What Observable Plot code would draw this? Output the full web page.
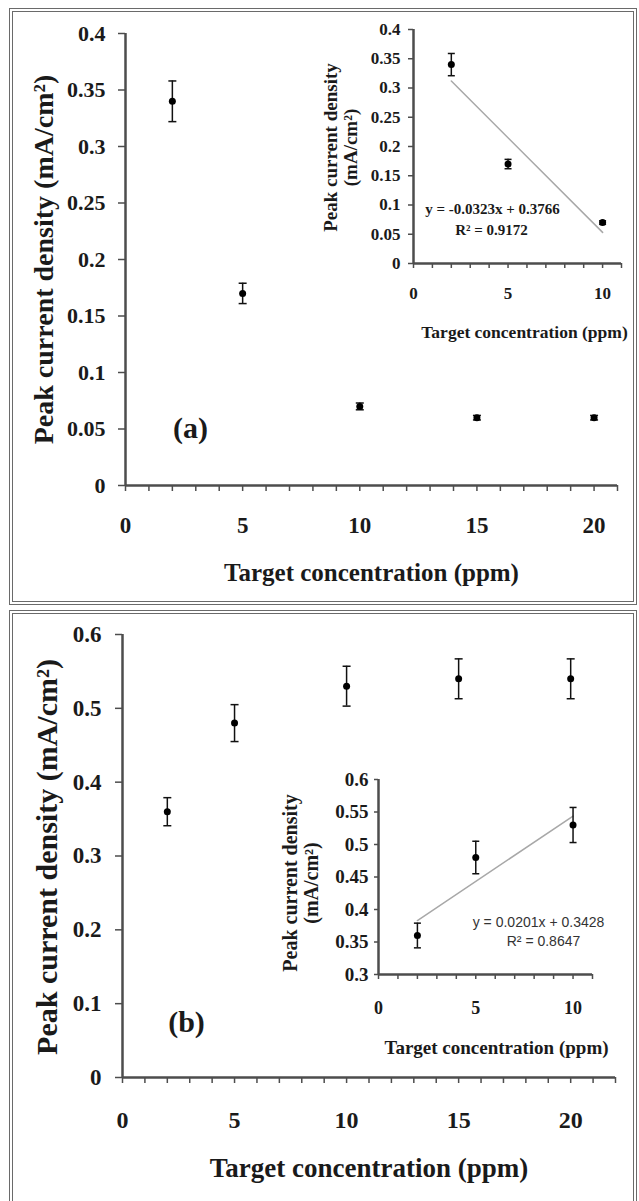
<!DOCTYPE html>
<html><head><meta charset="utf-8">
<script src="https://cdn.jsdelivr.net/npm/d3@7"></script>
<script src="https://cdn.jsdelivr.net/npm/@observablehq/plot@0.6"></script>
<style>
html,body{margin:0;padding:0;background:#fff;}
#page{position:relative;width:639px;height:1201px;overflow:hidden;background:#fff;}
.frame{position:absolute;box-sizing:border-box;border:4px double #6a6a6a;}
#page svg{position:absolute;left:0;top:0;}
</style></head><body><div id="page">
<div class="frame" style="left:9px;top:8px;width:628px;height:597px"></div>
<div class="frame" style="left:9px;top:610px;width:628px;height:640px"></div>
</div>
<script>
// ---- data ----
const concentrations = [2, 5, 10, 15, 20];
const densityA = [0.34, 0.17, 0.07, 0.06, 0.06];
const errorA = [0.018, 0.009, 0.003, 0.002, 0.002];
const densityB = [0.36, 0.48, 0.53, 0.54, 0.54];
const errorB = [0.019, 0.025, 0.027, 0.027, 0.027];

const insetConcentrations = [2, 5, 10];
const insetDensityA = [0.34, 0.17, 0.07];
const insetErrorA = [0.019, 0.008, 0.003];
const insetDensityB = [0.36, 0.48, 0.53];
const insetErrorB = [0.019, 0.025, 0.027];

// ---- ticks & labels ----
const mainXTicks = [0, 5, 10, 15, 20];
const insetXTicks = [0, 5, 10];
const mainAYTicks = [0, 0.05, 0.1, 0.15, 0.2, 0.25, 0.3, 0.35, 0.4];
const insetAYTicks = [0, 0.05, 0.1, 0.15, 0.2, 0.25, 0.3, 0.35, 0.4];
const mainBYTicks = [0, 0.1, 0.2, 0.3, 0.4, 0.5, 0.6];
const insetBYTicks = [0.3, 0.35, 0.4, 0.45, 0.5, 0.55, 0.6];
const minorA = d3.range(0, 22);
const minorB = d3.range(0, 23);
const minorInset = d3.range(0, 12);

const yTitle = "Peak current density (mA/cm²)";
const yTitleInset = "Peak current density\n(mA/cm²)";
const xTitle = "Target concentration (ppm)";
const eqA = ["y = -0.0323x + 0.3766", "R² = 0.9172"];
const eqB = ["y = 0.0201x + 0.3428", "R² = 0.8647"];

const rows = (xs, ys, es) => xs.map((x, i) => ({x, y: ys[i], e: es[i]}));
const dataA = rows(concentrations, densityA, errorA);
const dataB = rows(concentrations, densityB, errorB);
const insetA = rows(insetConcentrations, insetDensityA, insetErrorA);
const insetB = rows(insetConcentrations, insetDensityB, insetErrorB);

const AX = "#4d4d4d";
const TXT = "#1a1a1a";
const SERIF = "'Liberation Serif','Times New Roman',serif";
const style = {background: "none", overflow: "visible", fontFamily: SERIF, fontWeight: "bold", color: TXT};
const cap = {draw(ctx, size) { const r = Math.sqrt(size / Math.PI); ctx.moveTo(-r, 0); ctx.lineTo(r, 0); }};

function errMarks(data, capR, dotR) {
  return [
    Plot.ruleX(data, {x: "x", y1: d => d.y - d.e, y2: d => d.y + d.e, stroke: "#111", strokeWidth: 1.5}),
    Plot.dot(data, {x: "x", y: d => d.y + d.e, symbol: cap, r: capR, stroke: "#111", fill: "none", strokeWidth: 1.5}),
    Plot.dot(data, {x: "x", y: d => d.y - d.e, symbol: cap, r: capR, stroke: "#111", fill: "none", strokeWidth: 1.5}),
    Plot.dot(data, {x: "x", y: "y", r: dotR, fill: "#000", stroke: "none"})
  ];
}

function axes(o) {
  return [
    Plot.axisY({ticks: o.yTicks, tickSize: o.yTickSize, tickPadding: o.yPad, tickFormat: d => String(d), fontSize: o.yFont, stroke: AX, strokeWidth: 1.5, fill: TXT}),
    Plot.axisX({ticks: o.minor, tickSize: o.xTickSize, tickFormat: () => "", stroke: AX, strokeWidth: 1.5}),
    Plot.axisX({ticks: o.xTicks, tickSize: 0, tickPadding: o.xPad, tickFormat: d => String(d), fontSize: o.xFont, fill: TXT}),
    Plot.ruleX([o.x0], {stroke: AX, strokeWidth: 2.5}),
    Plot.ruleY([o.y0], {stroke: AX, strokeWidth: 2.5})
  ];
}

const page = document.getElementById("page");

// ---- Panel (a) main ----
page.append(Plot.plot({
  width: 639, height: 603,
  marginLeft: 125, marginRight: 22, marginTop: 33, marginBottom: 118,
  x: {domain: [0, 21], label: null},
  y: {domain: [0, 0.4], label: null},
  style,
  marks: [
    ...axes({yTicks: mainAYTicks, yTickSize: 7, yPad: 13, yFont: 22, minor: minorA, xTickSize: 6, xTicks: mainXTicks, xPad: 31, xFont: 23, x0: 0, y0: 0}),
    ...errMarks(dataA, 4, 3.5),
    Plot.text([yTitle], {text: d => d, frameAnchor: "left", textAnchor: "middle", lineAnchor: "middle", dx: -81, rotate: -90, fontSize: 28, fill: TXT}),
    Plot.text([xTitle], {text: d => d, frameAnchor: "bottom", textAnchor: "middle", lineAnchor: "middle", dy: 87, fontSize: 25, fill: TXT}),
    Plot.text(["(a)"], {text: d => d, frameAnchor: "left", textAnchor: "middle", lineAnchor: "middle", dx: 65, dy: 169, fontSize: 30, fill: TXT})
  ]
}));

// ---- Panel (a) inset ----
page.append(Plot.plot({
  width: 639, height: 350,
  marginLeft: 413, marginRight: 18, marginTop: 29, marginBottom: 87,
  x: {domain: [0, 11], label: null},
  y: {domain: [0, 0.4], label: null},
  style,
  marks: [
    ...axes({yTicks: insetAYTicks, yTickSize: 5, yPad: 8, yFont: 17, minor: minorInset, xTickSize: 5, xTicks: insetXTicks, xPad: 23, xFont: 17, x0: 0, y0: 0}),
    Plot.linearRegressionY(insetA, {x: "x", y: "y", ci: 0, stroke: "#a8a8a8", strokeWidth: 1.5}),
    ...errMarks(insetA, 3.5, 3.5),
    Plot.text([yTitleInset], {text: d => d, frameAnchor: "left", textAnchor: "middle", lineAnchor: "middle", dx: -73, dy: 1, rotate: -90, fontSize: 19, lineHeight: 1.05, fill: TXT}),
    Plot.text([xTitle], {text: d => d, frameAnchor: "bottom", textAnchor: "middle", lineAnchor: "middle", dx: 7, dy: 69, fontSize: 17.5, fill: TXT}),
    Plot.text([eqA[0]], {text: d => d, frameAnchor: "left", textAnchor: "middle", lineAnchor: "middle", dx: 79, dy: 63, fontSize: 15, fill: TXT}),
    Plot.text([eqA[1]], {text: d => d, frameAnchor: "left", textAnchor: "middle", lineAnchor: "middle", dx: 78, dy: 84, fontSize: 15, fill: TXT})
  ]
}));

// ---- Panel (b) main ----
page.append(Plot.plot({
  width: 639, height: 1201,
  marginLeft: 122, marginRight: 24, marginTop: 634, marginBottom: 124,
  x: {domain: [0, 22], label: null},
  y: {domain: [0, 0.6], label: null},
  style,
  marks: [
    ...axes({yTicks: mainBYTicks, yTickSize: 7, yPad: 14, yFont: 23, minor: minorB, xTickSize: 6, xTicks: mainXTicks, xPad: 33, xFont: 24, x0: 0, y0: 0}),
    ...errMarks(dataB, 4, 3.5),
    Plot.text([yTitle], {text: d => d, frameAnchor: "left", textAnchor: "middle", lineAnchor: "middle", dx: -75, dy: 1, rotate: -90, fontSize: 30, fill: TXT}),
    Plot.text([xTitle], {text: d => d, frameAnchor: "bottom", textAnchor: "middle", lineAnchor: "middle", dy: 91, fontSize: 27, fill: TXT}),
    Plot.text(["(b)"], {text: d => d, frameAnchor: "left", textAnchor: "middle", lineAnchor: "middle", dx: 64, dy: 166, fontSize: 30, fill: TXT})
  ]
}));

// ---- Panel (b) inset ----
page.append(Plot.plot({
  width: 639, height: 1100,
  marginLeft: 378, marginRight: 47, marginTop: 779, marginBottom: 126,
  x: {domain: [0, 11], label: null},
  y: {domain: [0.3, 0.6], label: null},
  style,
  marks: [
    ...axes({yTicks: insetBYTicks, yTickSize: 4, yPad: 6, yFont: 19, minor: minorInset, xTickSize: 5, xTicks: insetXTicks, xPad: 27, xFont: 18, x0: 0, y0: 0.3}),
    Plot.linearRegressionY(insetB, {x: "x", y: "y", ci: 0, stroke: "#a8a8a8", strokeWidth: 1.5}),
    ...errMarks(insetB, 3.5, 3.5),
    Plot.text([yTitleInset], {text: d => d, frameAnchor: "left", textAnchor: "middle", lineAnchor: "middle", dx: -78, dy: 6, rotate: -90, fontSize: 20, lineHeight: 1.05, fill: TXT}),
    Plot.text([xTitle], {text: d => d, frameAnchor: "bottom", textAnchor: "middle", lineAnchor: "middle", dx: 11, dy: 73, fontSize: 19, fill: TXT}),
    Plot.text([eqB[0]], {text: d => d, frameAnchor: "left", textAnchor: "middle", lineAnchor: "middle", dx: 160, dy: 46, fontSize: 14, fontWeight: "normal", fontFamily: "'Liberation Sans Narrow','Liberation Sans',Arial,sans-serif", fill: "#333"}),
    Plot.text([eqB[1]], {text: d => d, frameAnchor: "left", textAnchor: "middle", lineAnchor: "middle", dx: 165, dy: 65, fontSize: 14, fontWeight: "normal", fontFamily: "'Liberation Sans Narrow','Liberation Sans',Arial,sans-serif", fill: "#333"})
  ]
}));
</script></body></html>
